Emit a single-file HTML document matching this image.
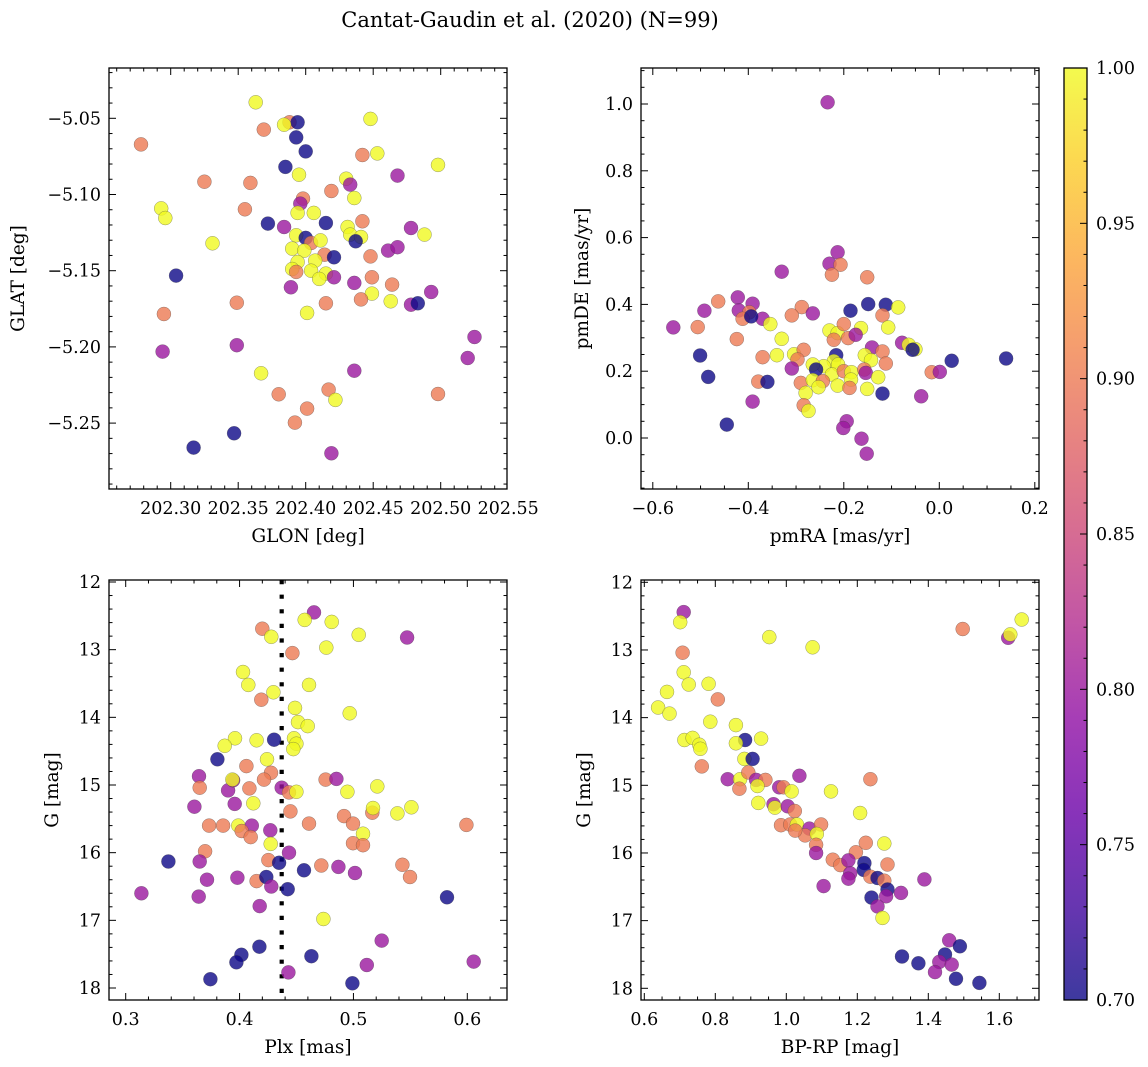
<!DOCTYPE html>
<html><head><meta charset="utf-8">
<style>
html,body{margin:0;padding:0;background:#fff;}
svg{display:block;font-family:"DejaVu Serif","Liberation Serif",serif;}
</style></head>
<body>
<svg id="fig" width="1148" height="1067" viewBox="0 0 1148 1067" xmlns="http://www.w3.org/2000/svg">
<defs>
<linearGradient id="cbgrad" x1="0" y1="1" x2="0" y2="0">
<stop offset="0" stop-color="#0d0887"/><stop offset="0.1" stop-color="#41049d"/><stop offset="0.2" stop-color="#6a00a8"/><stop offset="0.3" stop-color="#8f0da4"/><stop offset="0.4" stop-color="#b12a90"/><stop offset="0.5" stop-color="#cc4778"/><stop offset="0.6" stop-color="#e16462"/><stop offset="0.7" stop-color="#f2844b"/><stop offset="0.8" stop-color="#fca636"/><stop offset="0.9" stop-color="#fcce25"/><stop offset="1" stop-color="#f0f921"/>
</linearGradient>
</defs>
<text x="530" y="27" font-size="21" text-anchor="middle">Cantat-Gaudin et al. (2020) (N=99)</text>
</svg>
<script>
// ---------- DATA ----------
// Top-left: GLON / GLAT
const tlGlon=[202.363,202.388,202.394,202.384,202.369,202.393,202.278,202.400,202.448,202.442,202.453,202.385,202.498,202.325,202.359,202.395,202.468,202.430,202.433,202.419,202.436,202.398,202.396,202.293,202.296,202.355,202.394,202.406,202.372,202.384,202.415,202.431,202.442,202.433,202.441,202.437,202.478,202.488,202.393,202.400,202.404,202.411,202.331,202.390,202.399,202.414,202.421,202.407,202.394,202.390,202.393,202.404,202.415,202.410,202.421,202.461,202.468,202.448,202.304,202.449,202.436,202.464,202.389,202.493,202.449,202.463,202.441,202.415,202.349,202.478,202.483,202.401,202.295,202.525,202.520,202.349,202.294,202.436,202.367,202.498,202.380,202.417,202.422,202.401,202.392,202.347,202.317,202.419];
const tlGlat=[-5.0395,-5.0526,-5.0526,-5.0542,-5.0574,-5.0625,-5.0671,-5.0717,-5.0504,-5.0741,-5.0730,-5.0819,-5.0806,-5.0916,-5.0924,-5.0870,-5.0876,-5.0896,-5.0935,-5.0977,-5.1023,-5.1027,-5.1060,-5.1091,-5.1154,-5.1097,-5.1121,-5.1121,-5.1191,-5.1213,-5.1187,-5.1213,-5.1176,-5.1263,-5.1279,-5.1307,-5.1220,-5.1263,-5.1268,-5.1285,-5.1318,-5.1301,-5.1320,-5.1355,-5.1368,-5.1395,-5.1412,-5.1434,-5.1443,-5.1489,-5.1508,-5.1500,-5.1519,-5.1554,-5.1543,-5.1368,-5.1346,-5.1406,-5.1532,-5.1543,-5.1580,-5.1591,-5.1609,-5.1640,-5.1650,-5.1701,-5.1688,-5.1714,-5.1710,-5.1723,-5.1714,-5.1777,-5.1784,-5.1935,-5.2073,-5.1989,-5.2031,-5.2156,-5.2173,-5.2309,-5.2311,-5.2280,-5.2348,-5.2405,-5.2497,-5.2567,-5.2661,-5.2698];
const tlProb=[1.0,0.9,0.7,1.0,0.9,0.7,0.9,0.7,1.0,0.9,1.0,0.7,1.0,0.9,0.9,1.0,0.8,1.0,0.8,0.9,1.0,0.9,0.8,1.0,1.0,0.9,1.0,1.0,0.7,0.8,0.7,1.0,0.9,1.0,1.0,0.7,0.8,1.0,1.0,0.7,0.9,1.0,1.0,1.0,1.0,0.9,0.7,1.0,1.0,1.0,0.9,1.0,1.0,1.0,0.8,0.8,0.8,0.9,0.7,0.9,0.8,0.9,0.8,0.8,1.0,1.0,0.9,0.9,0.9,0.8,0.7,1.0,0.9,0.8,0.8,0.8,0.8,0.8,1.0,0.9,0.9,0.9,1.0,0.9,0.9,0.7,0.7,0.8];

// Top-right: pmRA / pmDE
const trPmra=[-0.234,-0.213,-0.230,-0.207,-0.225,-0.330,-0.151,-0.422,-0.463,-0.492,-0.391,-0.420,-0.398,-0.412,-0.370,-0.354,-0.394,-0.557,-0.506,-0.424,-0.288,-0.309,-0.265,-0.186,-0.149,-0.112,-0.086,-0.119,-0.230,-0.213,-0.200,-0.164,-0.107,-0.221,-0.191,-0.175,-0.330,-0.078,-0.064,-0.050,-0.056,-0.501,-0.340,-0.370,-0.304,-0.284,-0.297,-0.216,-0.221,-0.242,-0.265,-0.258,-0.212,-0.141,-0.119,-0.156,-0.143,-0.112,-0.484,-0.309,-0.379,-0.360,-0.225,-0.200,-0.184,-0.185,-0.157,-0.154,-0.128,-0.290,-0.265,-0.244,-0.253,-0.213,-0.188,-0.151,-0.016,0.001,0.026,0.140,-0.119,-0.038,-0.391,-0.280,-0.284,-0.274,-0.445,-0.194,-0.201,-0.163,-0.152];
const trPmde=[1.005,0.556,0.522,0.519,0.489,0.498,0.481,0.421,0.409,0.381,0.402,0.382,0.376,0.357,0.357,0.341,0.364,0.331,0.332,0.296,0.392,0.367,0.373,0.381,0.401,0.399,0.391,0.367,0.322,0.314,0.341,0.329,0.331,0.294,0.299,0.309,0.297,0.285,0.279,0.266,0.264,0.247,0.248,0.242,0.251,0.264,0.235,0.248,0.230,0.215,0.220,0.205,0.220,0.271,0.259,0.248,0.233,0.223,0.183,0.208,0.169,0.168,0.190,0.200,0.197,0.175,0.205,0.195,0.182,0.165,0.173,0.170,0.152,0.157,0.150,0.147,0.197,0.198,0.231,0.238,0.133,0.125,0.109,0.135,0.098,0.081,0.040,0.050,0.030,-0.002,-0.047];
const trProb=[0.8,0.8,0.8,0.9,0.9,0.8,0.9,0.8,0.9,0.8,0.8,0.8,0.9,0.9,0.8,1.0,0.7,0.8,0.9,0.9,0.9,0.9,0.8,0.7,0.7,0.7,1.0,0.9,1.0,1.0,0.9,1.0,1.0,0.9,0.9,0.8,1.0,0.8,1.0,1.0,0.7,0.7,1.0,0.9,1.0,0.9,0.9,0.7,1.0,1.0,1.0,0.7,1.0,0.8,0.9,1.0,1.0,0.9,0.7,0.8,0.9,0.7,1.0,0.9,1.0,1.0,0.9,0.8,1.0,0.9,1.0,0.9,1.0,1.0,0.9,1.0,0.9,0.8,0.7,0.7,0.7,0.8,0.8,1.0,0.9,1.0,0.7,0.8,0.8,0.8,0.8];

// Bottom-left: Plx / G
const blPlx=[0.4654,0.4572,0.4809,0.4200,0.4279,0.5046,0.5471,0.4762,0.4464,0.4030,0.4077,0.4610,0.4297,0.4191,0.4487,0.4967,0.4513,0.4598,0.3960,0.3869,0.4150,0.4303,0.4478,0.4499,0.4472,0.3805,0.4241,0.4060,0.4276,0.4215,0.3644,0.3650,0.3899,0.3943,0.3937,0.4086,0.4370,0.4434,0.4499,0.4756,0.4850,0.4947,0.5210,0.3603,0.3957,0.4121,0.4446,0.4917,0.4996,0.5166,0.5172,0.5386,0.5509,0.3732,0.3855,0.3989,0.4107,0.4019,0.4098,0.4270,0.4610,0.5084,0.4996,0.5084,0.5992,0.4273,0.3697,0.4434,0.3375,0.3650,0.4253,0.4347,0.4566,0.4718,0.4868,0.5014,0.5430,0.5497,0.3714,0.3981,0.4150,0.4235,0.4279,0.4423,0.3138,0.3641,0.4177,0.5822,0.4736,0.5248,0.4174,0.4016,0.3972,0.4631,0.5117,0.6056,0.4429,0.3744,0.4991];
const blG=[12.45,12.56,12.59,12.69,12.81,12.78,12.82,12.97,13.05,13.33,13.52,13.52,13.63,13.74,13.86,13.94,14.07,14.13,14.31,14.42,14.34,14.33,14.31,14.39,14.47,14.62,14.62,14.72,14.82,14.92,14.87,15.04,15.08,14.93,14.92,15.05,15.04,15.11,15.10,14.92,14.91,15.10,15.02,15.32,15.28,15.27,15.39,15.46,15.57,15.41,15.34,15.42,15.33,15.60,15.60,15.60,15.60,15.68,15.77,15.67,15.57,15.72,15.86,15.89,15.59,15.87,15.98,16.00,16.13,16.13,16.11,16.15,16.26,16.19,16.21,16.30,16.18,16.36,16.40,16.37,16.42,16.36,16.50,16.54,16.60,16.65,16.79,16.66,16.98,17.30,17.39,17.51,17.62,17.53,17.66,17.61,17.77,17.87,17.93];
const blProb=[0.8,1.0,1.0,0.9,1.0,1.0,0.8,1.0,0.9,1.0,1.0,1.0,1.0,0.9,1.0,1.0,1.0,1.0,1.0,1.0,1.0,0.7,1.0,1.0,1.0,0.7,1.0,0.9,0.9,0.9,0.8,0.9,0.8,0.8,1.0,0.9,0.8,0.9,1.0,0.9,0.8,1.0,1.0,0.8,0.8,1.0,0.9,0.9,0.9,0.9,1.0,1.0,1.0,0.9,0.9,1.0,0.8,0.9,0.9,0.8,0.9,1.0,0.9,0.9,0.9,1.0,0.9,0.8,0.7,0.8,0.9,0.7,0.7,0.9,0.8,0.8,0.9,0.9,0.8,0.8,0.9,0.7,0.8,0.7,0.8,0.8,0.8,0.7,1.0,0.8,0.7,0.7,0.7,0.7,0.8,0.8,0.8,0.7,0.7];
const plxLine=0.437;

// Bottom-right: BP-RP / G
const brBprp=[0.711,0.701,0.708,0.711,0.725,0.781,0.664,0.807,0.639,0.671,0.786,0.858,0.713,0.736,0.755,0.758,0.884,0.929,0.858,0.882,0.905,0.762,0.835,0.870,0.893,0.915,0.941,1.037,1.237,0.868,0.919,0.980,0.992,1.015,1.126,0.921,0.964,0.968,1.004,1.024,1.208,0.985,1.011,1.030,1.065,1.098,1.053,1.025,1.086,1.084,1.084,1.224,1.276,1.196,1.131,1.152,1.175,1.220,1.218,1.180,1.285,1.175,1.237,1.257,1.276,1.285,1.389,1.105,1.240,1.281,1.323,1.257,1.271,1.459,1.489,1.447,1.326,1.372,1.431,1.466,1.419,1.478,1.544,1.497,1.663,1.625,1.631,0.952,1.074];
const brG=[12.44,12.59,13.04,13.33,13.51,13.50,13.62,13.73,13.85,13.94,14.06,14.11,14.33,14.30,14.40,14.46,14.33,14.31,14.38,14.61,14.61,14.72,14.91,14.91,14.81,14.92,14.92,14.86,14.91,15.05,15.01,15.03,15.03,15.09,15.09,15.26,15.28,15.33,15.31,15.38,15.41,15.59,15.58,15.58,15.64,15.58,15.74,15.67,15.72,15.88,16.00,15.85,15.86,15.99,16.10,16.18,16.11,16.15,16.25,16.30,16.17,16.38,16.35,16.37,16.41,16.54,16.39,16.49,16.66,16.64,16.59,16.79,16.96,17.29,17.38,17.50,17.53,17.63,17.61,17.65,17.76,17.86,17.92,12.69,12.55,12.82,12.77,12.81,12.96];
const brProb=[0.8,1.0,0.9,1.0,1.0,1.0,1.0,0.9,1.0,1.0,1.0,1.0,1.0,1.0,1.0,1.0,0.7,1.0,1.0,1.0,0.7,0.9,0.8,1.0,0.9,0.8,0.9,0.8,0.9,0.9,1.0,0.8,0.9,1.0,1.0,1.0,0.8,1.0,0.8,0.9,1.0,0.9,0.9,1.0,0.8,0.9,0.9,0.9,1.0,0.9,0.8,0.9,1.0,0.9,0.9,0.9,0.8,0.7,0.7,0.8,0.9,0.8,0.9,0.7,0.9,0.7,0.8,0.8,0.7,0.8,0.8,0.8,1.0,0.8,0.7,0.7,0.7,0.7,0.8,0.8,0.8,0.7,0.7,0.9,1.0,0.8,1.0,1.0,1.0];

// Colorbar ticks
const cbTicks=[0.70,0.75,0.80,0.85,0.90,0.95,1.00];

// ---------- RENDER ----------
const NS="http://www.w3.org/2000/svg";
const svg=document.getElementById('fig');
function mk(tag,attrs,parent){const e=document.createElementNS(NS,tag);for(const k in attrs)e.setAttribute(k,attrs[k]);(parent||svg).appendChild(e);return e;}
const stops=[[13,8,135],[65,4,157],[106,0,168],[143,13,164],[177,42,144],[204,71,120],[225,100,98],[242,132,75],[252,166,54],[252,206,37],[240,249,33]];
function plasma(t){t=Math.max(0,Math.min(1,t));const f=t*10,i=Math.min(9,Math.floor(f)),u=f-i;const a=stops[i],b=stops[i+1];return 'rgb('+a.map((v,k)=>Math.round(v+(b[k]-v)*u)).join(',')+')';}
function cmap(p){return plasma((p-0.7)/0.3);}
function lin(d0,p0,d1,p1){return v=>p0+(v-d0)*(p1-p0)/(d1-d0);}
function fmt(v,dec){const s=Math.abs(v).toFixed(dec);return (v<-1e-9?'\u2212':'')+s;}
const TICKFS=17.5, LABFS=18.5;

function panel(cfg){
  const g=mk('g',{});
  
  
  const {L,R,T,B}=cfg;
  const clip=mk('clipPath',{id:cfg.name+'-clip'},g);
  mk('rect',{x:L,y:T,width:R-L,height:B-T},clip);
  const pts=mk('g',{'clip-path':'url(#'+cfg.name+'-clip)'},g);
  
  
  if(cfg.vline!==undefined){
    const vl=mk('line',{x1:cfg.sx(cfg.vline),x2:cfg.sx(cfg.vline),y1:T,y2:B,stroke:'#000','stroke-width':4.2,'stroke-dasharray':'4.2 10.4'},pts);
    
    
  }
  for(let i=0;i<cfg.xs.length;i++){
    const c=mk('circle',{cx:cfg.sx(cfg.xs[i]).toFixed(1),cy:cfg.sy(cfg.ys[i]).toFixed(1),r:7,fill:cmap(cfg.cs[i]),'fill-opacity':0.8,stroke:'#444','stroke-opacity':0.55,'stroke-width':0.5},pts);
    
    
  }
  const tk=mk('g',{stroke:'#000','stroke-width':1},g);
  const xmin=Math.min(cfg.xd[0],cfg.xd[1]),xmax=Math.max(cfg.xd[0],cfg.xd[1]);
  const ymin=Math.min(cfg.yd[0],cfg.yd[1]),ymax=Math.max(cfg.yd[0],cfg.yd[1]);
  function ticksFor(min,max,step){const a=[];for(let v=Math.ceil(min/step-1e-6)*step;v<=max+1e-9;v+=step)a.push(+v.toFixed(6));return a;}
  ticksFor(xmin,xmax,cfg.xminor).forEach(v=>{const x=cfg.sx(v);if(x<L||x>R)return;const isMaj=cfg.xmaj.some(m=>Math.abs(m-v)<1e-6);const len=isMaj?7:3.5;
    mk('line',{x1:x,x2:x,y1:B,y2:B-len},tk);mk('line',{x1:x,x2:x,y1:T,y2:T+len},tk);});
  ticksFor(ymin,ymax,cfg.yminor).forEach(v=>{const y=cfg.sy(v);if(y<T||y>B)return;const isMaj=cfg.ymaj.some(m=>Math.abs(m-v)<1e-6);const len=isMaj?7:3.5;
    mk('line',{y1:y,y2:y,x1:L,x2:L+len},tk);mk('line',{y1:y,y2:y,x1:R,x2:R-len},tk);});
  const fr=mk('rect',{x:L,y:T,width:R-L,height:B-T,fill:'none',stroke:'#000','stroke-width':1.3},g);
  
  
  cfg.xmaj.forEach(v=>{const t=mk('text',{x:cfg.sx(v),y:B+25,'font-size':TICKFS,'text-anchor':'middle'},g);t.textContent=fmt(v,cfg.xdec);
    
    });
  cfg.ymaj.forEach(v=>{const t=mk('text',{x:L-8,y:cfg.sy(v)+6,'font-size':TICKFS,'text-anchor':'end'},g);t.textContent=fmt(v,cfg.ydec);
    
    });
  const xl=mk('text',{x:(L+R)/2,y:B+53,'font-size':LABFS,'text-anchor':'middle'},g);xl.textContent=cfg.xlabel;
  
  
  const yx=cfg.ylx,yy=(T+B)/2;
  const yl=mk('text',{x:yx,y:yy,'font-size':LABFS,'text-anchor':'middle',transform:'rotate(-90 '+yx+' '+yy+')'},g);yl.textContent=cfg.ylabel;
  
  
}

panel({name:'glon-glat-panel',L:109,R:507,T:68,B:489,sx:lin(202.30,170.7,202.50,440.7),sy:lin(-5.05,118.3,-5.25,423.1),
  xd:[202.2538,202.549],yd:[-5.0167,-5.2918],xs:tlGlon,ys:tlGlat,cs:tlProb,
  xmaj:[202.30,202.35,202.40,202.45,202.50,202.55],xminor:0.01,ymaj:[-5.05,-5.10,-5.15,-5.20,-5.25],yminor:0.01,
  xdec:2,ydec:2,xlabel:'GLON [deg]',ylabel:'GLAT [deg]',ylx:24});
panel({name:'proper-motion-panel',L:641,R:1039,T:68,B:489,sx:lin(0,939.3,0.2,1034.8),sy:lin(0,438,1,104),
  xd:[-0.62,0.21],yd:[1.111,-0.153],xs:trPmra,ys:trPmde,cs:trProb,
  xmaj:[-0.6,-0.4,-0.2,0.0,0.2],xminor:0.05,ymaj:[0,0.2,0.4,0.6,0.8,1.0],yminor:0.05,
  xdec:1,ydec:1,xlabel:'pmRA [mas/yr]',ylabel:'pmDE [mas/yr]',ylx:588});
panel({name:'parallax-magnitude-panel',L:109,R:507,T:580,B:1000,sx:lin(0.3,125.7,0.6,467.3),sy:lin(12,582,18,988),
  xd:[0.2877,0.637],yd:[11.97,18.18],xs:blPlx,ys:blG,cs:blProb,vline:plxLine,
  xmaj:[0.3,0.4,0.5,0.6],xminor:0.02,ymaj:[12,13,14,15,16,17,18],yminor:0.2,
  xdec:1,ydec:0,xlabel:'Plx [mas]',ylabel:'G [mag]',ylx:58});
panel({name:'color-magnitude-panel',L:641,R:1039,T:580,B:1000,sx:lin(0.8,715.3,1.6,999.3),sy:lin(12,582.3,18,988.3),
  xd:[0.59,1.72],yd:[11.97,18.18],xs:brBprp,ys:brG,cs:brProb,
  xmaj:[0.6,0.8,1.0,1.2,1.4,1.6],xminor:0.05,ymaj:[12,13,14,15,16,17,18],yminor:0.2,
  xdec:1,ydec:0,xlabel:'BP-RP [mag]',ylabel:'G [mag]',ylx:590});

(function(){
  const g=mk('g',{});
  
  
  const L=1064,R=1087,T=68,B=1000;
  const sc=lin(0.7,B,1.0,T);
  mk('rect',{x:L,y:T,width:R-L,height:B-T,fill:'url(#cbgrad)','fill-opacity':0.8},g);
  const tk=mk('g',{stroke:'#000','stroke-width':1},g);
  for(let i=0;i<=30;i++){const v=0.7+i*0.01;const y=sc(v);const maj=i%5===0;mk('line',{x1:R,x2:R-(maj?7:3.5),y1:y,y2:y},tk);}
  mk('rect',{x:L,y:T,width:R-L,height:B-T,fill:'none',stroke:'#000','stroke-width':1.3},g);
  cbTicks.forEach(v=>{const t=mk('text',{x:R+9,y:sc(v)+6,'font-size':TICKFS},g);t.textContent=v.toFixed(2);
    
    });
})();
</script>
</body></html>
